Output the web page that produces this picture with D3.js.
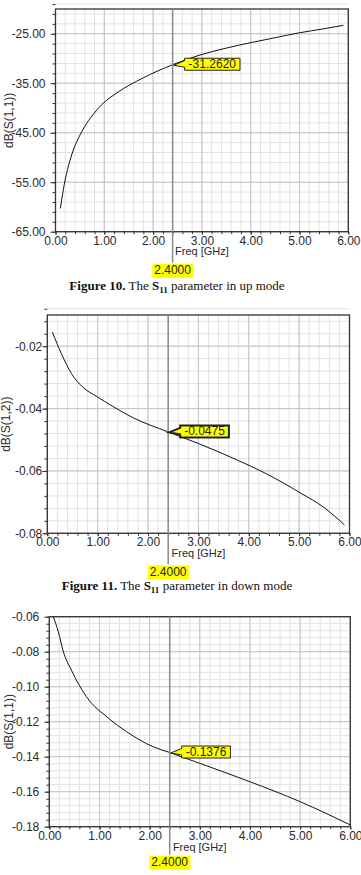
<!DOCTYPE html>
<html>
<head>
<meta charset="utf-8">
<script src="https://cdn.jsdelivr.net/npm/d3@7"></script>
<style>
  body { margin: 0; background: #fff; }
  svg { display: block; }
</style>
</head>
<body>
<div id="chart"></div>
<script>
// Figure 10: S11 in up mode
const freqUp = [0.1, 0.2, 0.26, 0.4, 0.48, 0.6, 0.75, 0.95, 1.25, 1.8, 2.4, 2.96, 3.5, 4.05, 4.5, 5.0, 5.5, 5.9];
const s11Up = [-60.3, -54.4, -51.9, -47.6, -45.9, -43.7, -41.6, -39.3, -37.0, -33.9, -31.262, -29.3, -27.9, -26.7, -25.8, -24.8, -24.0, -23.3];
const yTicksUp = [-65, -55, -45, -35, -25];

// Figure 11: S12 in down mode
const freqDown12 = [0.1, 0.28, 0.48, 0.7, 0.98, 1.3, 1.71, 2.4, 3.0, 3.7, 4.36, 5.02, 5.5, 5.9];
const s12Down = [-0.0155, -0.0224, -0.0288, -0.0331, -0.0361, -0.0393, -0.0430, -0.0475, -0.0512, -0.0560, -0.0610, -0.0670, -0.0718, -0.0773];
const yTicksDown12 = [-0.08, -0.06, -0.04, -0.02];

// third plot: S11 in down mode
const freqDown11 = [0.08, 0.18, 0.28, 0.44, 0.74, 1.18, 1.54, 2.07, 2.4, 3.0, 4.0, 5.0, 6.0];
const s11Down = [-0.060, -0.0686, -0.080, -0.0905, -0.1057, -0.118, -0.1257, -0.1343, -0.1376, -0.1438, -0.1543, -0.1657, -0.179];
const yTicksDown11 = [-0.18, -0.16, -0.14, -0.12, -0.10, -0.08, -0.06];

const xTicks = [0, 1, 2, 3, 4, 5, 6];
const markerFreq = 2.4;
const markerLabels = ["-31.2620", "-0.0475", "-0.1376"];
const yLabels = ["dB(S(1,1))", "dB(S(1,2))", "dB(S(1,1))"];

const SANS = "'Liberation Sans', Arial, sans-serif";
const SERIF = "'Liberation Serif', 'Times New Roman', serif";

const svg = d3.select("#chart").append("svg")
    .attr("width", 361)
    .attr("height", 875);

function drawChart(c) {
    const x = d3.scaleLinear().domain([0, 6]).range([c.left, c.right]);
    const y = d3.scaleLinear().domain(c.yDomain).range([c.bottom, c.top]);
    const g = svg.append("g");

    const xMinor = d3.range(0, 6.0001, 0.2);
    const yMinor = d3.range(0, Math.round((c.yDomain[1] - c.yDomain[0]) / c.minorStep) + 1)
        .map(i => c.yDomain[0] + i * c.minorStep);

    // minor grid
    g.append("g").selectAll("line").data(xMinor).join("line")
        .attr("x1", d => x(d)).attr("x2", d => x(d))
        .attr("y1", c.top).attr("y2", c.bottom)
        .attr("stroke", "#e2e2e2").attr("stroke-width", 1);
    g.append("g").selectAll("line").data(yMinor).join("line")
        .attr("x1", c.left).attr("x2", c.right)
        .attr("y1", d => y(d)).attr("y2", d => y(d))
        .attr("stroke", "#e2e2e2").attr("stroke-width", 1);

    // major grid
    g.append("g").selectAll("line").data(xTicks).join("line")
        .attr("x1", d => x(d)).attr("x2", d => x(d))
        .attr("y1", c.top).attr("y2", c.bottom)
        .attr("stroke", "#c4c4c4").attr("stroke-width", 1);
    g.append("g").selectAll("line").data(c.yTicks).join("line")
        .attr("x1", c.left).attr("x2", c.right)
        .attr("y1", d => y(d)).attr("y2", d => y(d))
        .attr("stroke", "#c4c4c4").attr("stroke-width", 1);

    // frame
    g.append("rect")
        .attr("x", c.left).attr("y", c.top)
        .attr("width", c.right - c.left).attr("height", c.bottom - c.top)
        .attr("fill", "none").attr("stroke", "#333").attr("stroke-width", 1.3);

    // minor ticks
    g.append("g").attr("transform", `translate(${c.left},0)`)
        .call(d3.axisLeft(y).tickValues(yMinor).tickFormat("").tickSize(3).tickSizeOuter(0))
        .call(a => a.select(".domain").remove())
        .call(a => a.selectAll("line").attr("stroke", "#333"));
    g.append("g").attr("transform", `translate(0,${c.bottom})`)
        .call(d3.axisBottom(x).tickValues(xMinor).tickFormat("").tickSize(2.5).tickSizeOuter(0))
        .call(a => a.select(".domain").remove())
        .call(a => a.selectAll("line").attr("stroke", "#333"));

    // major ticks + labels
    g.append("g").attr("transform", `translate(${c.left},0)`)
        .call(d3.axisLeft(y).tickValues(c.yTicks).tickFormat(d => d.toFixed(2))
            .tickSize(5).tickPadding(c.yPad).tickSizeOuter(0))
        .call(a => a.select(".domain").remove())
        .call(a => a.selectAll("line").attr("stroke", "#333"))
        .attr("font-size", 12).attr("font-family", SANS)
        .call(a => a.selectAll("text").attr("fill", "#2a2a2a"));
    g.append("g").attr("transform", `translate(0,${c.bottom})`)
        .call(d3.axisBottom(x).tickValues(xTicks).tickFormat(d => d.toFixed(2))
            .tickSize(3).tickPadding(c.xPad).tickSizeOuter(0))
        .call(a => a.select(".domain").remove())
        .call(a => a.selectAll("line").attr("stroke", "#333"))
        .attr("font-size", 12).attr("font-family", SANS)
        .call(a => a.selectAll("text").attr("fill", "#2a2a2a"));

    // curve
    const line = d3.line()
        .x((d, i) => x(c.freq[i]))
        .y(d => y(d))
        .curve(d3.curveMonotoneX);
    g.append("path")
        .datum(c.values)
        .attr("d", line)
        .attr("fill", "none")
        .attr("stroke", "#111")
        .attr("stroke-width", 1);

    // marker line
    const mx = x(markerFreq);
    g.append("line")
        .attr("x1", mx).attr("x2", mx)
        .attr("y1", c.top).attr("y2", c.bottom + c.boxGap)
        .attr("stroke", "#8a8a8a").attr("stroke-width", 1.5);

    // axis titles
    g.append("text")
        .attr("x", (c.left + c.right) / 2).attr("y", c.bottom + c.freqDy)
        .attr("text-anchor", "middle")
        .attr("font-family", SANS).attr("font-size", 11).attr("fill", "#2a2a2a")
        .text("Freq [GHz]");
    g.append("text")
        .attr("transform", `translate(${c.ylabX},${(c.top + c.bottom) / 2}) rotate(-90)`)
        .attr("text-anchor", "middle")
        .attr("font-family", SANS).attr("font-size", 12).attr("fill", "#2a2a2a")
        .text(c.yLabel);

    // x marker box
    const xb = g.append("g");
    const xt = xb.append("text")
        .attr("x", mx).attr("y", c.bottom + c.boxGap + 11.5)
        .attr("text-anchor", "middle")
        .attr("font-family", SANS).attr("font-size", 12).attr("fill", "#222")
        .text(markerFreq.toFixed(4));
    const xbb = xt.node().getBBox();
    xb.insert("rect", "text")
        .attr("x", xbb.x - 2).attr("y", c.bottom + c.boxGap + 1)
        .attr("width", xbb.width + 4).attr("height", 14)
        .attr("fill", "#ffff00");

    // callout at the marker point
    const px = mx, py = y(c.markerVal);
    const cb = g.append("g");
    const bx = px + 12, by = py - 6.5, bh = 12;
    const ct = cb.append("text")
        .attr("x", bx + 4).attr("y", by + 10)
        .attr("font-family", SANS).attr("font-size", 12).attr("fill", "#222")
        .text(c.markerLabel);
    const bw = ct.node().getComputedTextLength() + 8;
    cb.insert("polygon", "text")
        .attr("points", [
            [bx, by], [bx + bw, by], [bx + bw, by + bh], [bx, by + bh],
            [bx, by + bh - 3], [px + 1, py + 0.5], [bx, by + 2.5]
        ].map(p => p.join(",")).join(" "))
        .attr("fill", "#ffff00")
        .attr("stroke", "#222")
        .attr("stroke-width", c.calloutStroke);
}

function caption(num, rest, cx, yBase) {
    const t = svg.append("text")
        .attr("x", cx).attr("y", yBase)
        .attr("text-anchor", "middle")
        .attr("font-family", SERIF).attr("font-size", 13).attr("fill", "#111");
    t.append("tspan").attr("font-weight", "bold").text(`Figure ${num}.`);
    t.append("tspan").text(" The ");
    t.append("tspan").attr("font-weight", "bold").text("S");
    t.append("tspan").attr("font-weight", "bold").attr("font-size", 9).attr("dy", 3).text("11");
    t.append("tspan").attr("dy", -3).text(" " + rest);
}

drawChart({
    freq: freqUp, values: s11Up, yTicks: yTicksUp, yDomain: [-65, -20], minorStep: 2,
    left: 55.5, right: 348.3, top: 9, bottom: 231.7,
    yPad: 5, xPad: 2, freqDy: 23, ylabX: 13, boxGap: 31,
    yLabel: yLabels[0], markerVal: -31.262, markerLabel: markerLabels[0], calloutStroke: 1
});
caption(10, "parameter in up mode", 177, 290);

drawChart({
    freq: freqDown12, values: s12Down, yTicks: yTicksDown12, yDomain: [-0.08, -0.01], minorStep: 0.004,
    left: 47.3, right: 349.5, top: 315, bottom: 533.3,
    yPad: 0, xPad: 1, freqDy: 24, ylabX: 10, boxGap: 31,
    yLabel: yLabels[1], markerVal: -0.0475, markerLabel: markerLabels[1], calloutStroke: 2
});
caption(11, "parameter in down mode", 177, 589.5);

drawChart({
    freq: freqDown11, values: s11Down, yTicks: yTicksDown11, yDomain: [-0.18, -0.06], minorStep: 0.004,
    left: 49.3, right: 350.3, top: 616.7, bottom: 826.7,
    yPad: 5, xPad: 2, freqDy: 24, ylabX: 13, boxGap: 28,
    yLabel: yLabels[2], markerVal: -0.1376, markerLabel: markerLabels[2], calloutStroke: 1
});
</script>
</body>
</html>
